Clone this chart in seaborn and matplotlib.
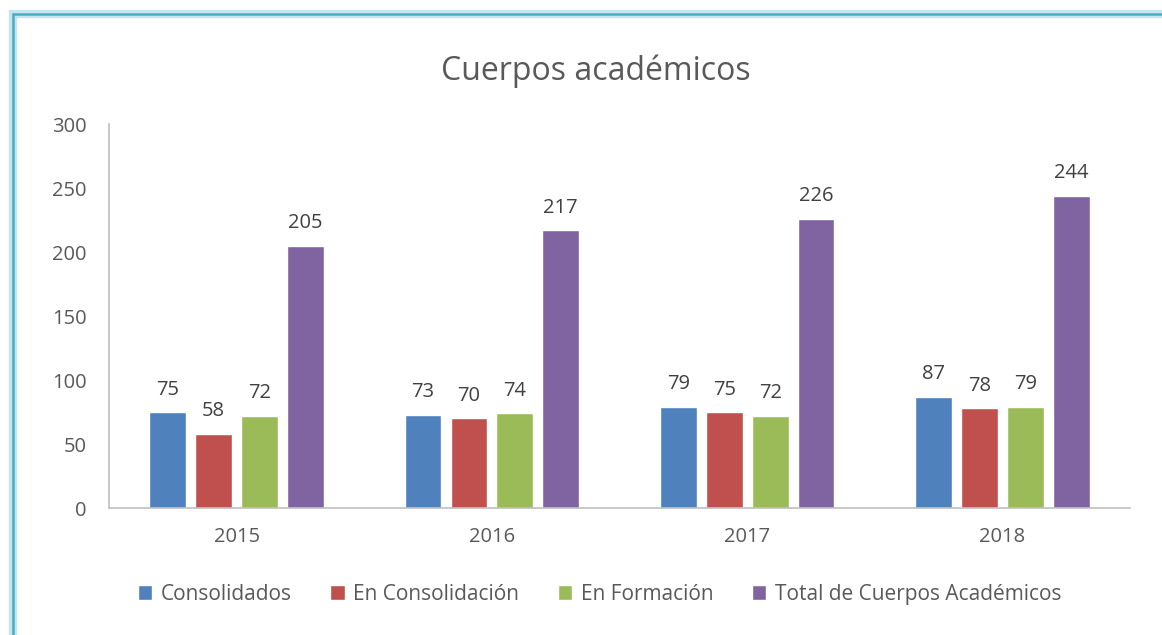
import pandas as pd
import matplotlib.pyplot as plt
import seaborn as sns
from matplotlib.patches import Rectangle

years = ["2015", "2016", "2017", "2018"]
series = ["Consolidados", "En Consolidación", "En Formación", "Total de Cuerpos Académicos"]
consolidados = [75, 73, 79, 87]
en_consolidacion = [58, 70, 75, 78]
en_formacion = [72, 74, 72, 79]
total = [205, 217, 226, 244]
colors = ["#4F81BD", "#C0504D", "#9BBB59", "#8064A2"]

df = pd.DataFrame({
    "year": years * 4,
    "serie": [s for s in series for _ in years],
    "value": consolidados + en_consolidacion + en_formacion + total,
})

sns.set_style("white")
plt.rcParams["font.family"] = ["Open Sans", "DejaVu Sans"]

fig = plt.figure(figsize=(11.62, 6.35), dpi=100)
ax = fig.add_axes([0.0938, 0.2, 0.8787, 0.6047])

sns.barplot(data=df, x="year", y="value", hue="serie", palette=colors,
            width=0.72, gap=0.2, ax=ax, saturation=1, legend=True)

for c in ax.containers:
    ax.bar_label(c, padding=9, fontsize=14.5, color="#404040")

ax.set_ylim(0, 300)
ax.set_yticks(range(0, 301, 50))
ax.set_xlabel("")
ax.set_ylabel("")
ax.tick_params(axis="both", length=0, labelsize=14.5, colors="#595959")
ax.tick_params(axis="x", pad=14)
ax.tick_params(axis="y", pad=16)
for s in ["top", "right"]:
    ax.spines[s].set_visible(False)
for s in ["left", "bottom"]:
    ax.spines[s].set_color("#BFBFBF")
    ax.spines[s].set_linewidth(1.2)

fig.text(0.513, 0.888, "Cuerpos académicos", fontsize=23, color="#595959",
         ha="center", va="center")

handles, labels = ax.get_legend_handles_labels()
ax.get_legend().remove()
fig.legend(handles, labels, loc="center", bbox_to_anchor=(0.516, 0.064), ncol=4,
           frameon=False, fontsize=15, handlelength=0.7, handleheight=0.7,
           columnspacing=1.85, handletextpad=0.4, labelcolor="#595959")

# border frame with soft glow
fig.patches.append(Rectangle((0.0112, -0.05), 1.2, 1.028, transform=fig.transFigure,
                             fill=False, edgecolor="#C4E6EE", linewidth=6, zorder=0))
fig.patches.append(Rectangle((0.0112, -0.05), 1.2, 1.028, transform=fig.transFigure,
                             fill=False, edgecolor="#4BACC6", linewidth=1.8, zorder=1))

plt.savefig("out.png", dpi=100)
